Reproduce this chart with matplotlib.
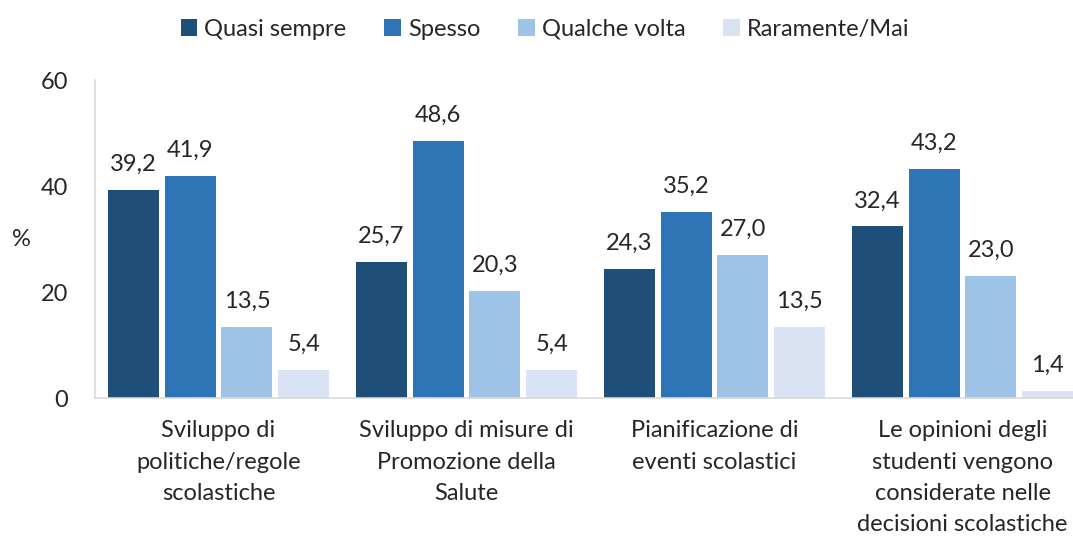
import matplotlib
matplotlib.use("Agg")
import matplotlib.pyplot as plt
import numpy as np

plt.rcParams['font.family'] = ['Lato', 'DejaVu Sans']

categories = ["Sviluppo di\npolitiche/regole\nscolastiche",
              "Sviluppo di misure di\nPromozione della\nSalute",
              "Pianificazione di\neventi scolastici",
              "Le opinioni degli\nstudenti vengono\nconsiderate nelle\ndecisioni scolastiche"]
series_names = ["Quasi sempre", "Spesso", "Qualche volta", "Raramente/Mai"]
quasi_sempre = [39.2, 25.7, 24.3, 32.4]
spesso = [41.9, 48.6, 35.2, 43.2]
qualche_volta = [13.5, 20.3, 27.0, 23.0]
raramente = [5.4, 5.4, 13.5, 1.4]
colors = ["#1F4E79", "#2E75B6", "#9DC3E6", "#DAE3F3"]

FS = 17
TC = '#262626'

fig = plt.figure(figsize=(10.73, 5.38), dpi=100)
ax = fig.add_axes([0.0881, 0.260, 0.9245, 0.591])

x = np.arange(len(categories))
width = 0.206
step = 0.229
series = [quasi_sempre, spesso, qualche_volta, raramente]
for i, (vals, name, c) in enumerate(zip(series, series_names, colors)):
    pos = x + (i - 1.5) * step
    ax.bar(pos, vals, width, color=c, label=name)
    for p, v in zip(pos, vals):
        ax.text(p, v + 3.6, f"{v:.1f}".replace('.', ','), ha='center', va='baseline',
                fontsize=FS, color=TC)

ax.set_xlim(-0.5, len(categories) - 0.5)
ax.set_ylim(0, 60)
ax.set_yticks([0, 20, 40, 60])
ax.tick_params(axis='y', length=0, labelsize=FS, labelcolor=TC, pad=19)
ax.tick_params(axis='x', length=0, labelsize=FS, labelcolor=TC, pad=16)
ax.set_xticks(x)
ax.set_xticklabels(categories, va='top', linespacing=1.6)
for s in ['top', 'right']:
    ax.spines[s].set_visible(False)
for s in ['left', 'bottom']:
    ax.spines[s].set_color('#D9D9D9')
    ax.spines[s].set_linewidth(1.2)
ax.set_ylabel('%', rotation=0, fontsize=FS, color=TC, va='center', ha='center')
ax.yaxis.set_label_coords(-0.074, 0.5)

fig.legend(loc='upper center', bbox_to_anchor=(0.508, 1.005), ncol=4, frameon=False,
           fontsize=FS, handlelength=0.7, handleheight=0.7, handletextpad=0.3,
           columnspacing=1.6, labelcolor=TC)

fig.savefig('out.png', dpi=100)
